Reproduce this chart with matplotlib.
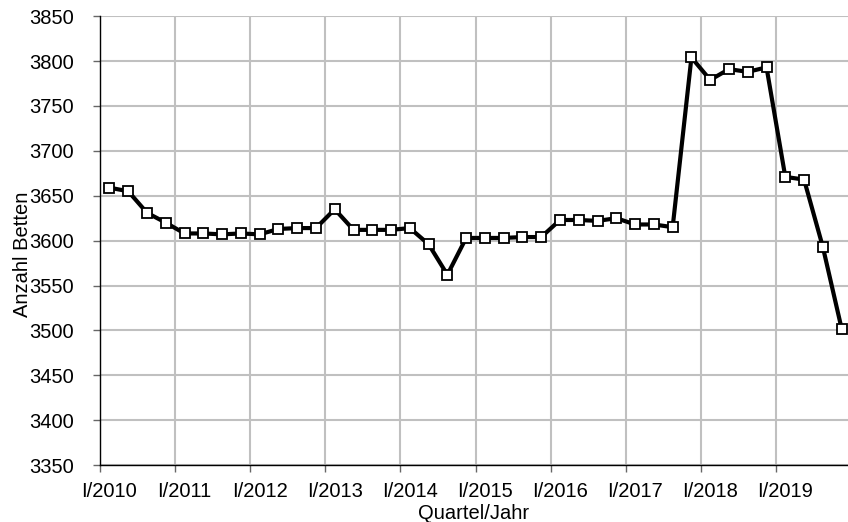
import matplotlib.pyplot as plt
import numpy as np

plt.rcParams['font.family'] = ['Liberation Sans', 'DejaVu Sans']

years = list(range(2010, 2020))
tick_labels = ["I/%d" % y for y in years]

# Anzahl Betten je Quartal, I/2010 bis IV/2019
betten = [
    3659, 3655, 3631, 3620,
    3608, 3608, 3607, 3608,
    3607, 3613, 3614, 3614,
    3635, 3612, 3612, 3612,
    3614, 3596, 3562, 3603,
    3603, 3603, 3604, 3604,
    3623, 3623, 3622, 3625,
    3618, 3618, 3615, 3804,
    3779, 3791, 3788, 3793,
    3671, 3668, 3593, 3502,
]

# Punkte jeweils in der Mitte des Quartals
quartal_x = np.array([y + (q + 0.5) / 4 for y in years for q in range(4)])

fig = plt.figure(figsize=(8.48, 5.22), dpi=100)
ax = fig.add_axes([0.118, 0.109, 0.882, 0.860])

ax.plot(quartal_x, betten, color='black', linewidth=3,
        marker='s', markersize=6.5, markerfacecolor='white',
        markeredgecolor='black', markeredgewidth=1.3, zorder=3,
        clip_on=False)

ax.set_xlim(2010, 2019.96)
ax.set_ylim(3350, 3850)

# Striche und Gitter an den Jahresgrenzen, Beschriftung beim ersten Quartal
ax.set_xticks(years)
ax.set_xticklabels([])
ax.set_xticks([y + 0.125 for y in years], minor=True)
ax.set_xticklabels(tick_labels, minor=True)
ax.tick_params(axis='x', which='minor', length=0, labelsize=14.5, pad=12)
ax.set_yticks(range(3350, 3851, 50))

ax.grid(True, which='major', color='#c0c0c0', linewidth=1.5)
ax.set_axisbelow(True)
for side in ('top', 'right'):
    ax.spines[side].set_visible(False)
ax.spines['left'].set_linewidth(1.0)
ax.spines['bottom'].set_linewidth(1.0)

ax.tick_params(axis='both', which='major', labelsize=14.5, length=5,
               width=1, direction='out', color='#666666')
ax.tick_params(axis='y', pad=14)
ax.set_xlabel("Quartel/Jahr", fontsize=14.5)
ax.xaxis.set_label_coords(0.5, -0.086)
ax.set_ylabel("Anzahl Betten", fontsize=14.5)
ax.yaxis.set_label_coords(-0.091, 0.469)

fig.savefig("out.png", dpi=100)
